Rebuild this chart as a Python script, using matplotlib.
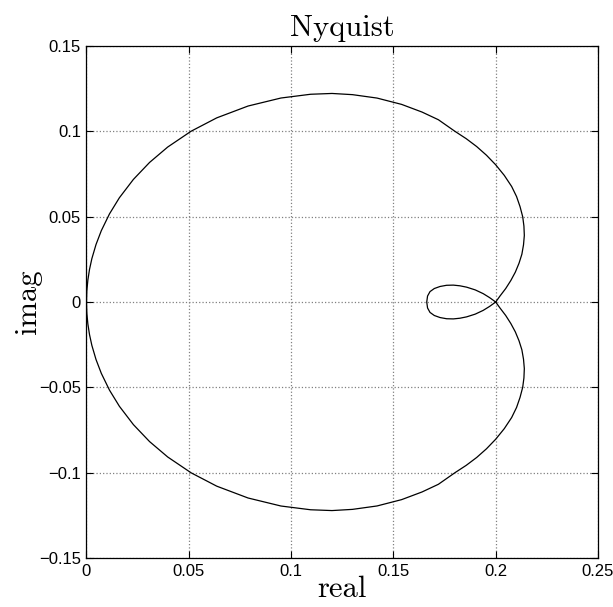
import matplotlib
matplotlib.use('Agg')
import matplotlib.pyplot as plt

# one half of the Nyquist path:
# origin -> top of the big arc -> right side -> crossing at 0.2 -> half loop -> w=0
real_half = [0.0, 0.00016, 0.00066, 0.00148, 0.00262, 0.00465, 0.00724, 0.01124,
             0.01608, 0.02292, 0.03082, 0.03970, 0.05117, 0.06366, 0.07896, 0.09505,
             0.10954, 0.1200, 0.1300, 0.1420, 0.1540, 0.1640, 0.1720, 0.1801,
             0.1856, 0.1907, 0.1955, 0.2000, 0.2042, 0.2078, 0.2102, 0.2119,
             0.2132, 0.2138, 0.2140, 0.2136, 0.2128, 0.2114, 0.2096, 0.2074,
             0.2049, 0.2021, 0.2000, 0.1970, 0.1939, 0.1900, 0.1858, 0.1825,
             0.1793, 0.1760, 0.1728, 0.1700, 0.1679, 0.1667, 0.1663]
imag_half = [0.0, 0.00640, 0.01277, 0.01912, 0.02541, 0.03368, 0.04180, 0.05164,
             0.06110, 0.07183, 0.08177, 0.09081, 0.10010, 0.10790, 0.11483, 0.11953,
             0.12173, 0.1222, 0.1215, 0.1195, 0.1158, 0.1113, 0.1068, 0.1000,
             0.0957, 0.0911, 0.0860, 0.0804, 0.0742, 0.0677, 0.0618, 0.0559,
             0.0500, 0.0445, 0.0390, 0.0335, 0.0280, 0.0227, 0.0175, 0.0126,
             0.0079, 0.0035, 0.0000, -0.0026, -0.0049, -0.0071, -0.0087, -0.0095,
             -0.0099, -0.0098, -0.0091, -0.0079, -0.0061, -0.0035, 0.0000]

xticks = [0, 0.05, 0.1, 0.15, 0.2, 0.25]
xtick_labels = ['0', '0.05', '0.1', '0.15', '0.2', '0.25']
yticks = [-0.15, -0.1, -0.05, 0, 0.05, 0.1, 0.15]
ytick_labels = ['\u22120.15', '\u22120.1', '\u22120.05', '0', '0.05', '0.1', '0.15']

# the other frequency sign is the mirror image (complex conjugate)
real_all = real_half + real_half[-2::-1]
imag_all = imag_half + [-v for v in imag_half[-2::-1]]

fig = plt.figure(figsize=(6.13, 6.07), dpi=100)
ax = fig.add_axes([0.1411, 0.0807, 0.8344, 0.8435])

ax.plot(real_all, imag_all, color='black', linewidth=0.9)

ax.set_xlim(0, 0.25)
ax.set_ylim(-0.15, 0.15)
ax.set_xticks(xticks)
ax.set_xticklabels(xtick_labels, fontfamily='Liberation Sans', fontsize=12)
ax.set_yticks(yticks)
ax.set_yticklabels(ytick_labels, fontfamily='Liberation Sans', fontsize=12)
ax.tick_params(direction='in', top=True, right=True, length=5, width=0.8, pad=4)
ax.grid(True, linestyle=':', color='0.5', linewidth=0.9)
for sp in ax.spines.values():
    sp.set_linewidth(0.9)

serif = dict(fontfamily='cmr10', fontsize=22)
ax.set_title('Nyquist', pad=7, **serif)
ax.set_xlabel('real', labelpad=-2, **serif)
ax.set_ylabel('imag', labelpad=-2, **serif)

fig.savefig('out.png', dpi=100)
